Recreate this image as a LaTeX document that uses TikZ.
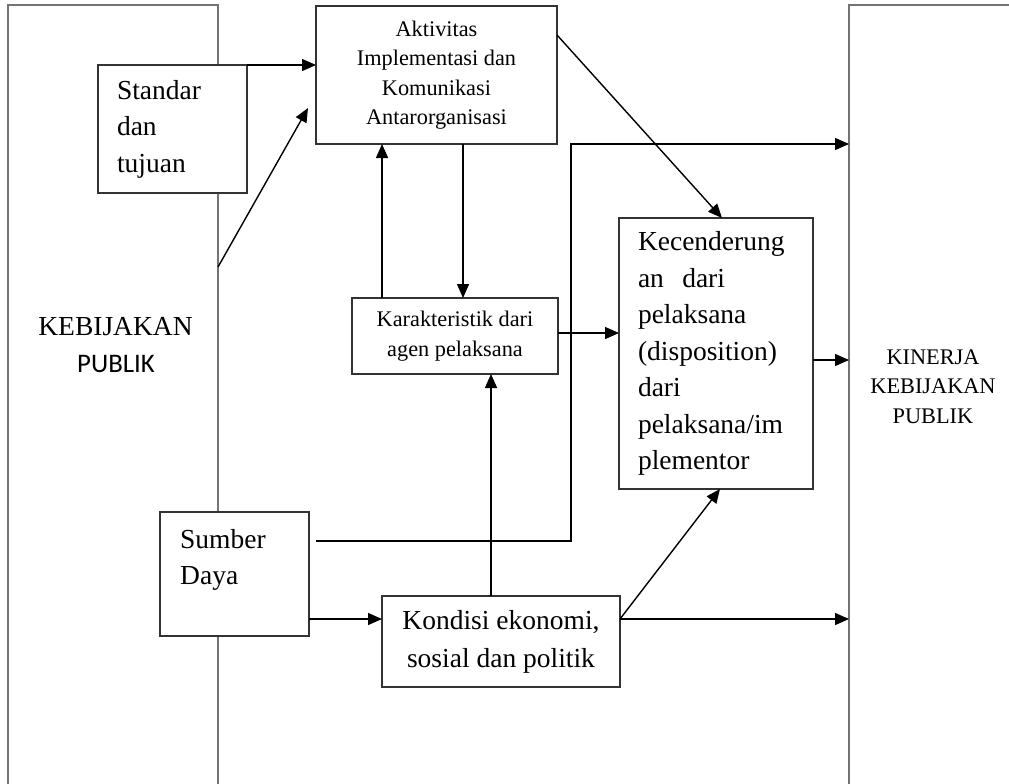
\documentclass[tikz,border=0pt]{standalone}
\usepackage{fontspec}
\setmainfont{Liberation Serif}
\newfontfamily\calibfont{Carlito}
\usetikzlibrary{arrows.meta}
\begin{document}
\begin{tikzpicture}[x=1pt,y=-1pt,
  bigtxt/.style={font=\fontsize{27.5}{36.5}\selectfont},
  smalltxt/.style={font=\fontsize{22.3}{29.5}\selectfont},
  box/.style={draw=black!80, fill=white, line width=1.6pt, inner sep=0pt, outer sep=0pt},
  frame/.style={draw=black!55, line width=2.2pt, inner sep=0pt, outer sep=0pt, anchor=north west},
  arr/.style={draw=black, line width=1.4pt, -{Triangle[length=14pt,width=12pt]}}]
\useasboundingbox (0,0) rectangle (1009,784);
\fill[white] (0,0) rectangle (1009,784);

% large frames (open at the bottom of the page)
\node[frame, minimum width=210pt, minimum height=810pt] (kebijakan) at (8,5) {};
\node[frame, minimum width=210pt, minimum height=810pt] (kinerjabox) at (849,5) {};

\node[bigtxt, anchor=base] (kebtxt) at (115.5,335) {KEBIJAKAN};
\node[font=\calibfont\fontsize{26.8}{30}\selectfont, anchor=base] (publiktxt) at (116,372) {PUBLIK};
\node[smalltxt, align=center, inner sep=0pt] (kinerjatxt) at (933,386.6) {KINERJA\\KEBIJAKAN\\PUBLIK};

% boxes
\node[box, bigtxt, align=left, text width=111pt, inner xsep=19pt,
      minimum width=149pt, minimum height=128pt] (standar) at (172.5,129) {Standar\\dan\\tujuan};
\node[box, smalltxt, align=center, minimum width=241pt, minimum height=138pt] (aktivitas) at (436.5,75)
  {Aktivitas\\Implementasi dan\\Komunikasi\\Antarorganisasi};
\node[box, font=\fontsize{22.3}{30}\selectfont, align=center, minimum width=206pt, minimum height=76pt] (karakteristik) at (455,336)
  {Karakteristik dari\\agen pelaksana};
\node[box, bigtxt, align=left, text width=156pt, inner xsep=19pt,
      minimum width=194pt, minimum height=271pt] (kecenderung) at (716,353.5)
  {Kecenderung\\an\ \ dari\\pelaksana\\(disposition)\\dari\\pelaksana/im\\plementor};
\node[box, minimum width=149pt, minimum height=124pt] (sumber) at (234.5,574) {};
\node[bigtxt, align=left, anchor=north west, inner sep=0pt] (sumbertxt) at (180,529.2) {Sumber\\Daya};
\node[box, font=\fontsize{27.5}{38}\selectfont, align=center, minimum width=238pt, minimum height=91pt] (kondisi) at (501,641.5)
  {Kondisi ekonomi,\\sosial dan politik};

% connectors
\draw[arr] (standar.north east) -- (standar.north east -| aktivitas.west);
\coordinate (d1) at (kebijakan.east |- 0,267);
\coordinate (d2) at (308,108);
\draw[arr] (d1) -- (d2);
\draw[arr] (aktivitas.east |- 0,35) -- (kecenderung.north -| 722,0);
\draw[arr] (aktivitas.south -| 463,0) -- (karakteristik.north -| 463,0);
\draw[arr] (karakteristik.north -| 382,0) -- (aktivitas.south -| 382,0);
\draw[arr] (karakteristik.east |- 0,333) -- (kecenderung.west |- 0,333);
\draw[arr] (kondisi.north -| 491,0) -- (karakteristik.south -| 491,0);
\coordinate (s1) at (316,541);
\draw[arr] (s1) -| (571,144) -- (kinerjabox.west |- 0,144);
\draw[arr] (sumber.east |- 0,619) -- (kondisi.west |- 0,619);
\draw[arr] (kondisi.east |- 0,619) -- (kinerjabox.west |- 0,619);
\draw[arr] (kondisi.east |- 0,619) -- (kecenderung.south -| 720,0);
\draw[arr] (kecenderung.east |- 0,360) -- (kinerjabox.west |- 0,360);
\end{tikzpicture}
\end{document}
